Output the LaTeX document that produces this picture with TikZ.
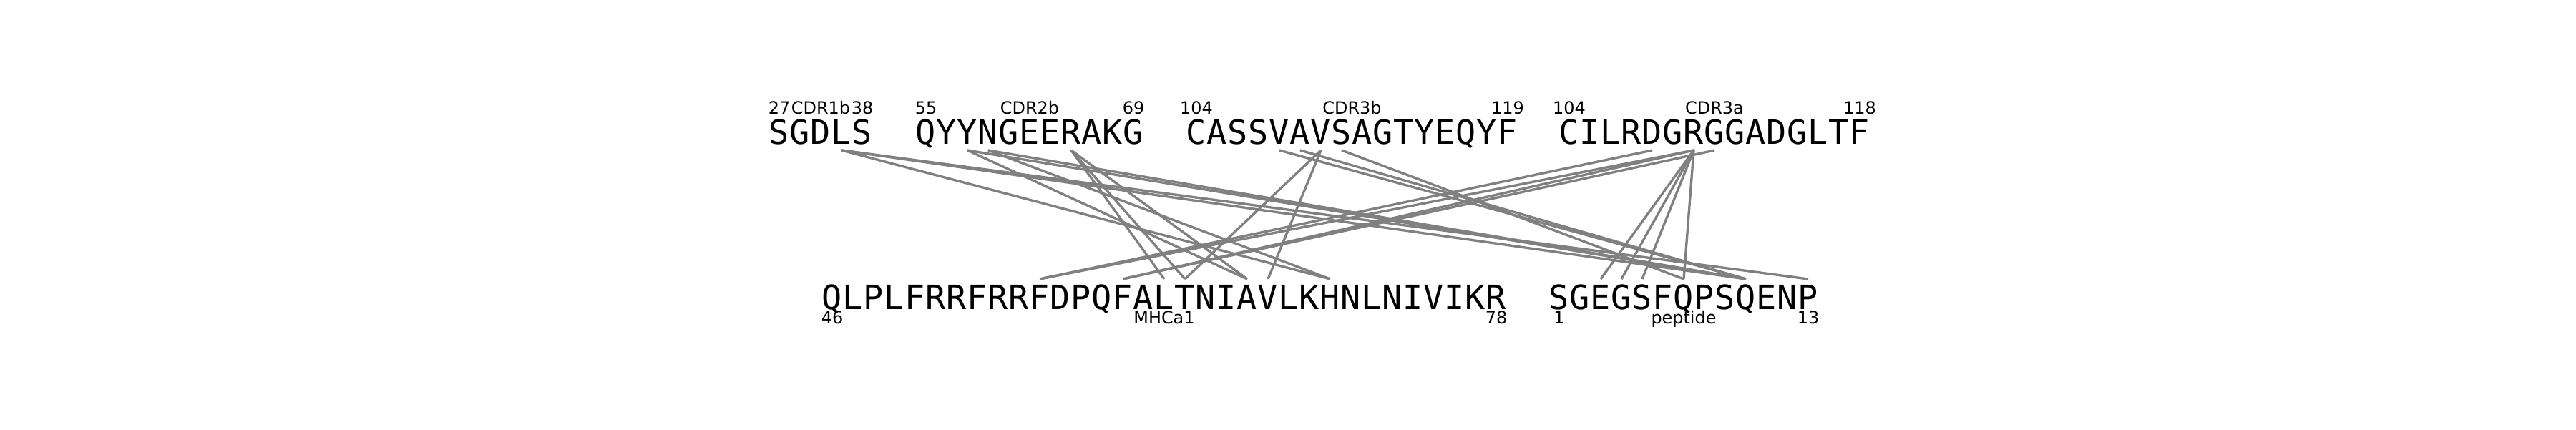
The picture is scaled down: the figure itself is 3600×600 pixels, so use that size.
\documentclass[tikz,border=0pt]{standalone}
\usepackage{fontspec}
\newfontfamily\seqfont{DejaVu Sans Mono}
\newfontfamily\labfont{DejaVu Sans}
\definecolor{linegray}{RGB}{128,128,128}
\tikzset{
  res/.style={font=\seqfont\fontsize{13.3}{14}\selectfont, anchor=base, inner sep=0pt, outer sep=0pt},
  lab/.style={font=\labfont\fontsize{6.8}{8}\selectfont, anchor=base, inner sep=0pt, outer sep=0pt},
  contact/.style={draw=linegray, line width=0.95pt},
}
% #1 prefix, #2 centre x of first residue, #3 baseline y, #4 connector y, #5 residues
\newcommand\seqrow[5]{%
  \foreach \ch [count=\i from 0] in {#5} {
    \node[res] (#1t\i) at ({#2+29*\i},#3) {\ch};
    \coordinate (#1\i) at ({#2+29*\i},#4);
  }%
}
\begin{document}
\begin{tikzpicture}[x=0.01cm,y=-0.01cm]
\useasboundingbox (0,0) rectangle (3600,600);
% top row: TCR CDR loops
\seqrow{c1-}{1089}{201}{210}{S,G,D,L,S}
\seqrow{c2-}{1294}{201}{210}{Q,Y,Y,N,G,E,E,R,A,K,G}
\seqrow{c3-}{1672}{201}{210}{C,A,S,S,V,A,V,S,A,G,T,Y,E,Q,Y,F}
\seqrow{ca-}{2193}{201}{210}{C,I,L,R,D,G,R,G,G,A,D,G,L,T,F}
% bottom row: MHC and peptide
\seqrow{m-}{1163}{432}{390}{Q,L,P,L,F,R,R,F,R,R,F,D,P,Q,F,A,L,T,N,I,A,V,L,K,H,N,L,N,I,V,I,K,R}
\seqrow{p-}{2179}{432}{390}{S,G,E,G,S,F,Q,P,S,Q,E,N,P}
% labels: numbers centred on the first / last residue, names on the middle
\node[lab] (c1lo) at (1089,159) {27};
\node[lab] (c1nm) at (1147,159) {CDR1b};
\node[lab] (c1hi) at (1205,159) {38};
\node[lab] (c2lo) at (1294,159) {55};
\node[lab] (c2nm) at (1439,159) {CDR2b};
\node[lab] (c2hi) at (1584,159) {69};
\node[lab] (c3lo) at (1672,159) {104};
\node[lab] (c3nm) at (1889.5,159) {CDR3b};
\node[lab] (c3hi) at (2107,159) {119};
\node[lab] (calo) at (2193,159) {104};
\node[lab] (canm) at (2396,159) {CDR3a};
\node[lab] (cahi) at (2599,159) {118};
\node[lab] (mlo) at (1163,452) {46};
\node[lab] (mnm) at (1627,452) {MHCa1};
\node[lab] (mhi) at (2091,452) {78};
\node[lab] (plo) at (2179,452) {1};
\node[lab] (pnm) at (2353,452) {peptide};
\node[lab] (phi) at (2527,452) {13};
% contacts
\draw[contact] (c1-3) -- (m-24);
\draw[contact] (c1-3) -- (p-12);
\draw[contact] (c1-3) -- (p-9);
\draw[contact] (c2-2) -- (m-20);
\draw[contact] (c2-2) -- (p-9);
\draw[contact] (c2-3) -- (m-24);
\draw[contact] (c2-3) -- (p-9);
\draw[contact] (c2-7) -- (m-16);
\draw[contact] (c2-7) -- (m-17);
\draw[contact] (c2-7) -- (m-20);
\draw[contact] (c3-4) -- (p-9);
\draw[contact] (c3-5) -- (p-9);
\draw[contact] (c3-6) -- (m-17);
\draw[contact] (c3-6) -- (m-21);
\draw[contact] (c3-7) -- (p-6);
\draw[contact] (ca-4) -- (m-10);
\draw[contact] (ca-6) -- (m-10);
\draw[contact] (ca-6) -- (m-14);
\draw[contact] (ca-7) -- (m-14);
\draw[contact] (ca-6) -- (p-2);
\draw[contact] (ca-6) -- (p-3);
\draw[contact] (ca-6) -- (p-4);
\draw[contact] (ca-6) -- (p-6);
\end{tikzpicture}
\end{document}
